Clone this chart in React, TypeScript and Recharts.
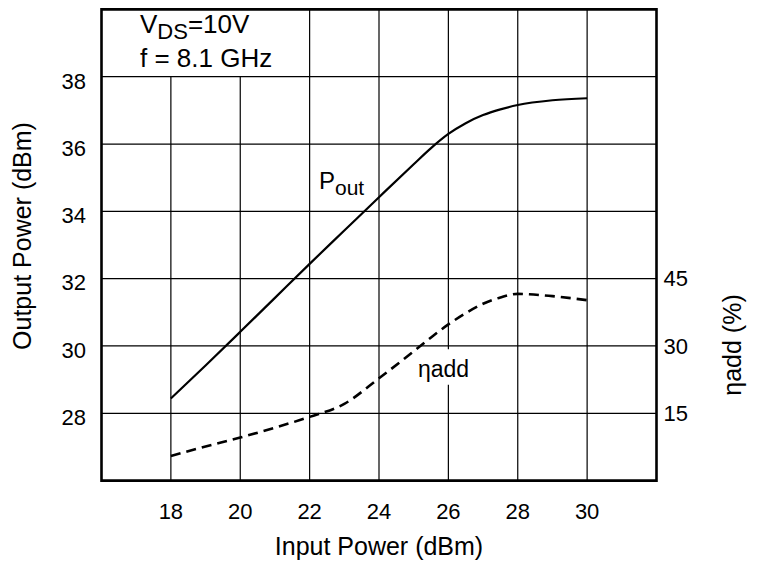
import React from 'react';
import {
  ComposedChart,
  Line,
  XAxis,
  YAxis,
  CartesianGrid,
  ReferenceLine,
  ReferenceArea,
  Customized
} from 'recharts';

// values
const inputPower = [18, 19, 20, 21, 22, 23, 24, 25, 25.5, 26, 26.5, 27, 27.5, 28, 29, 30];
const outputPower = [28.44, 29.42, 30.42, 31.43, 32.44, 33.43, 34.42, 35.4, 35.88, 36.3, 36.62, 36.86, 37.03, 37.16, 37.3, 37.36];
const efficiency = [5.5, 7.6, 9.6, 11.8, 14.2, 17.1, 22.8, 28.8, 31.9, 34.8, 37.3, 39.4, 40.8, 41.6, 41.1, 40.2];

const xTicks = [18, 20, 22, 24, 26, 28, 30];
const leftTicks = [28, 30, 32, 34, 36, 38];
const rightTicks = [15, 30, 45];

// vertical grid lines hidden behind the text box and the eta label
const boxedGridX = [18, 20];
const etaLabelGridX = 26;
const etaLabelGap = [28.85, 29.9];

const data = inputPower.map((pin, i) => ({
  pin,
  pout: outputPower[i],
  eta: efficiency[i]
}));

const FONT = '"Liberation Sans", Arial, Helvetica, sans-serif';
const INK = '#000';

const Annotations = () => (
  <g fontFamily={FONT} fill={INK}>
    <text x={140} y={33} fontSize={26}>
      V<tspan fontSize={22} dy={6}>DS</tspan>
      <tspan dy={-6}>=10V</tspan>
    </text>
    <text x={140} y={67} fontSize={26}>f = 8.1 GHz</text>

    <text x={319} y={189} fontSize={24}>
      P<tspan fontSize={21} dy={6}>out</tspan>
    </text>
    <text x={418} y={377} fontSize={23}>ηadd</text>

    <text
      x={22}
      y={236}
      fontSize={25}
      textAnchor="middle"
      dominantBaseline="central"
      transform="rotate(-90 22 236)"
    >
      Output Power (dBm)
    </text>
    <text
      x={732}
      y={345}
      fontSize={25}
      textAnchor="middle"
      dominantBaseline="central"
      transform="rotate(-90 732 345)"
    >
      ηadd (%)
    </text>
    <text x={379} y={555} fontSize={25} textAnchor="middle">
      Input Power (dBm)
    </text>
  </g>
);

export default function App() {
  const tickStyle = { fill: INK, fontSize: 22, fontFamily: FONT };

  return (
    <div style={{ position: 'absolute', left: 0, top: 0, width: 760, height: 568, background: '#fff' }}>
      <ComposedChart
        width={760}
        height={568}
        data={data}
        margin={{ top: 9.4, right: 0, bottom: 0, left: 0 }}
      >
        <CartesianGrid vertical={false} stroke={INK} strokeWidth={1.2} yAxisId="pout" />

        <XAxis
          dataKey="pin"
          type="number"
          domain={[16, 32]}
          ticks={xTicks}
          height={87.4}
          axisLine={false}
          tickLine={false}
          tickSize={0}
          tickMargin={22.4}
          tick={tickStyle}
        />
        <YAxis
          yAxisId="pout"
          domain={[26, 40]}
          ticks={leftTicks}
          width={101.5}
          axisLine={false}
          tickLine={false}
          tickSize={0}
          tickMargin={15.5}
          tick={{ ...tickStyle, dy: 4 }}
        />
        <YAxis
          yAxisId="eta"
          orientation="right"
          domain={[0, 105]}
          ticks={rightTicks}
          width={103.5}
          axisLine={false}
          tickLine={false}
          tickSize={0}
          tickMargin={7}
          tick={tickStyle}
        />

        {xTicks.map((x) => {
          if (boxedGridX.includes(x)) {
            return (
              <ReferenceLine
                key={`vx-${x}`}
                yAxisId="pout"
                segment={[{ x, y: 26 }, { x, y: 38 }]}
                stroke={INK}
                strokeWidth={1.2}
              />
            );
          }
          if (x === etaLabelGridX) {
            return (
              <React.Fragment key={`vx-${x}`}>
                <ReferenceLine
                  yAxisId="pout"
                  segment={[{ x, y: 26 }, { x, y: etaLabelGap[0] }]}
                  stroke={INK}
                  strokeWidth={1.2}
                />
                <ReferenceLine
                  yAxisId="pout"
                  segment={[{ x, y: etaLabelGap[1] }, { x, y: 40 }]}
                  stroke={INK}
                  strokeWidth={1.2}
                />
              </React.Fragment>
            );
          }
          return (
            <ReferenceLine key={`vx-${x}`} yAxisId="pout" x={x} stroke={INK} strokeWidth={1.2} />
          );
        })}

        <ReferenceArea
          yAxisId="pout"
          x1={16}
          x2={32}
          y1={26}
          y2={40}
          fill="none"
          fillOpacity={0}
          stroke={INK}
          strokeWidth={2.6}
        />

        <Line
          yAxisId="pout"
          dataKey="pout"
          type="monotone"
          stroke={INK}
          strokeWidth={2.2}
          dot={false}
          isAnimationActive={false}
        />
        <Line
          yAxisId="eta"
          dataKey="eta"
          type="monotone"
          stroke={INK}
          strokeWidth={2.6}
          strokeDasharray="10 6"
          dot={false}
          isAnimationActive={false}
        />

        <Customized component={Annotations} />
      </ComposedChart>
    </div>
  );
}
